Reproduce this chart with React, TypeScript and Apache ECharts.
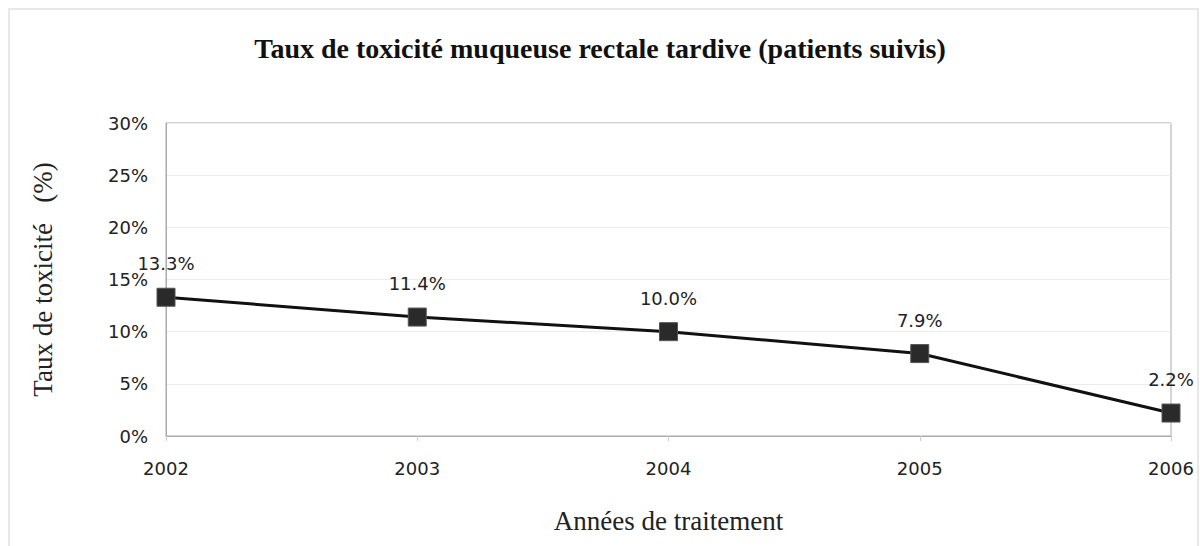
import React, { useEffect, useRef } from "react";
import * as echarts from "echarts";

const categories = ["2002", "2003", "2004", "2005", "2006"];
const values = [13.3, 11.4, 10.0, 7.9, 2.2];
const title = "Taux de toxicité muqueuse rectale tardive (patients suivis)";
const yName = "Taux de toxicité   (%)";
const xName = "Années de traitement";

export default function App() {
  const ref = useRef<HTMLDivElement>(null);
  useEffect(() => {
    if (!ref.current) return;
    const chart = echarts.init(ref.current, null, { renderer: "svg" });
    chart.setOption({
      animation: false,
      backgroundColor: "#ffffff",
      title: {
        text: title,
        left: "center",
        top: 29,
        textStyle: {
          fontFamily: "Liberation Serif",
          fontWeight: "bold",
          fontSize: 28,
          color: "#111",
        },
      },
      graphic: [
        {
          type: "rect",
          shape: { x: 9, y: 9, width: 1189, height: 545 },
          style: { fill: "none", stroke: "#e8e8e8", lineWidth: 2 },
          silent: true,
        },
      ],
      grid: {
        left: 166,
        right: 29,
        top: 123,
        bottom: 110,
        show: true,
        borderColor: "#aaaaaa",
        borderWidth: 1,
      },
      xAxis: {
        type: "category",
        data: categories,
        boundaryGap: false,
        name: xName,
        nameLocation: "middle",
        nameGap: 71,
        nameTextStyle: {
          fontFamily: "Liberation Serif",
          fontSize: 27,
          color: "#222",
        },
        axisLine: { lineStyle: { color: "#aaaaaa", width: 1 } },
        axisTick: { show: true, inside: false, length: 5, lineStyle: { color: "#cccccc" } },
        axisLabel: {
          margin: 23,
          fontFamily: "DejaVu Sans",
          fontSize: 18,
          color: "#222",
        },
      },
      yAxis: {
        type: "value",
        min: 0,
        max: 30,
        interval: 5,
        name: yName,
        nameLocation: "middle",
        nameGap: 110,
        nameRotate: 90,
        nameTextStyle: {
          fontFamily: "Liberation Serif",
          fontSize: 27,
          color: "#222",
        },
        axisLine: { show: true, lineStyle: { color: "#aaaaaa", width: 1 } },
        axisTick: { show: false },
        splitLine: { lineStyle: { color: "#ececec", width: 1 } },
        axisLabel: {
          formatter: "{value}%",
          margin: 18,
          fontFamily: "DejaVu Sans",
          fontSize: 18,
          color: "#222",
        },
      },
      series: [
        {
          type: "line",
          data: values,
          symbol: "rect",
          symbolSize: 18,
          lineStyle: { color: "#111", width: 3 },
          itemStyle: { color: "#2a2a2a", borderColor: "#555", borderWidth: 1 },
          label: {
            show: true,
            position: "top",
            distance: 15,
            formatter: (p: any) => p.value.toFixed(1) + "%",
            fontFamily: "DejaVu Sans",
            fontSize: 18,
            color: "#222",
          },
          z: 5,
        },
      ],
    });
    return () => chart.dispose();
  }, []);
  return (
    <div
      ref={ref}
      style={{ position: "absolute", left: 0, top: 0, width: 1200, height: 546 }}
    />
  );
}
